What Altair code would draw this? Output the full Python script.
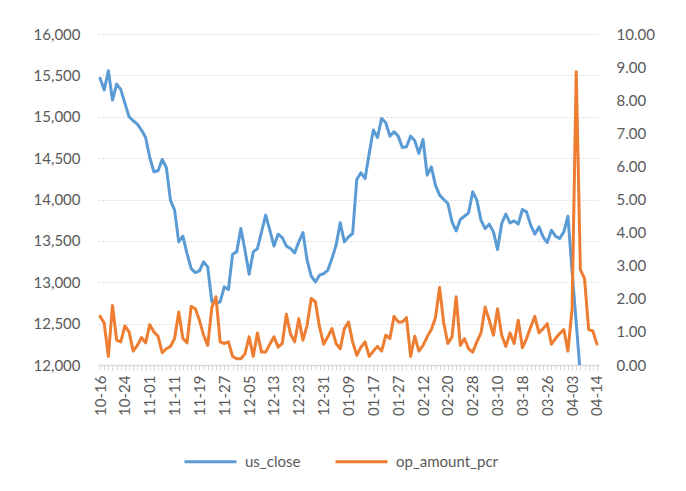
import altair as alt
import pandas as pd

dates = [
    "10-16", "10-17", "10-18", "10-21", "10-22", "10-23", "10-24", "10-25", "10-28", "10-29", "10-30", "10-31",
    "11-01", "11-04", "11-05", "11-06", "11-07", "11-08", "11-11", "11-12", "11-13", "11-14", "11-15", "11-18",
    "11-19", "11-20", "11-21", "11-22", "11-25", "11-26", "11-27", "11-28", "11-29", "12-02", "12-03", "12-04",
    "12-05", "12-06", "12-09", "12-10", "12-11", "12-12", "12-13", "12-16", "12-17", "12-18", "12-19", "12-20",
    "12-23", "12-24", "12-25", "12-26", "12-27", "12-30", "12-31", "01-02", "01-03", "01-06", "01-07", "01-08",
    "01-09", "01-10", "01-13", "01-14", "01-15", "01-16", "01-17", "01-20", "01-21", "01-22", "01-23", "01-24",
    "01-27", "02-05", "02-06", "02-07", "02-10", "02-11", "02-12", "02-13", "02-14", "02-17", "02-18", "02-19",
    "02-20", "02-21", "02-24", "02-25", "02-26", "02-27", "02-28", "03-03", "03-04", "03-05", "03-06", "03-07",
    "03-10", "03-11", "03-12", "03-13", "03-14", "03-17", "03-18", "03-19", "03-20", "03-21", "03-24", "03-25",
    "03-26", "03-27", "03-28", "03-31", "04-01", "04-02", "04-03", "04-07", "04-08", "04-09", "04-10", "04-11",
    "04-14",
]

us_close = [
    15464, 15323, 15556, 15202, 15395, 15331, 15161, 15000, 14952, 14911, 14839, 14750,
    14508, 14335, 14347, 14484, 14387, 13992, 13871, 13488, 13557, 13347, 13165, 13117,
    13137, 13246, 13186, 12762, 12750, 12762, 12944, 12911, 13339, 13367, 13649, 13387,
    13097, 13367, 13407, 13609, 13811, 13629, 13436, 13581, 13540, 13436, 13407, 13355,
    13488, 13601, 13266, 13073, 13004, 13085, 13105, 13145, 13286, 13448, 13718, 13488,
    13548, 13589, 14242, 14323, 14254, 14557, 14839, 14750, 14980, 14927, 14766, 14819,
    14766, 14629, 14637, 14766, 14710, 14557, 14726, 14294, 14395, 14173, 14053, 14000,
    13952, 13730, 13621, 13758, 13798, 13839, 14093, 13992, 13750, 13649, 13702, 13609,
    13395, 13710, 13823, 13718, 13742, 13702, 13879, 13851, 13690, 13581, 13669, 13548,
    13480, 13629, 13557, 13528, 13609, 13798, 13130, 12510, 11880,
    None, None, None, None,
]

op_amount_pcr = [
    1.47, 1.27, 0.26, 1.80, 0.75, 0.70, 1.18, 1.00, 0.42, 0.59, 0.83, 0.67,
    1.22, 1.00, 0.87, 0.37, 0.49, 0.56, 0.80, 1.60, 0.80, 0.67, 1.77, 1.70,
    1.35, 0.90, 0.59, 1.75, 2.06, 0.70, 0.65, 0.70, 0.26, 0.19, 0.19, 0.34,
    0.85, 0.26, 0.97, 0.39, 0.39, 0.63, 0.85, 0.54, 0.65, 1.53, 0.93, 0.70,
    1.40, 0.75, 1.20, 2.01, 1.91, 1.15, 0.63, 0.85, 1.10, 0.65, 0.49, 1.10,
    1.30, 0.70, 0.29, 0.54, 0.70, 0.26, 0.42, 0.56, 0.42, 0.90, 0.80, 1.47,
    1.30, 1.30, 1.43, 0.26, 0.87, 0.42, 0.59, 0.85, 1.07, 1.43, 2.34, 1.27,
    0.65, 0.85, 2.06, 0.59, 0.80, 0.49, 0.39, 0.70, 0.97, 1.75, 1.35, 0.90,
    1.70, 0.90, 0.56, 0.97, 0.65, 1.35, 0.52, 0.80, 1.15, 1.47, 0.97, 1.10,
    1.25, 0.63, 0.80, 0.95, 1.07, 0.42, 1.70, 8.86, 2.88, 2.61, 1.07, 1.03, 0.63,
]

series_names = ["us_close", "op_amount_pcr"]
series_colors = ["#5B9BD5", "#ED7D31"]
left_ticks = [12000, 12500, 13000, 13500, 14000, 14500, 15000, 15500, 16000]
right_ticks = [0, 1, 2, 3, 4, 5, 6, 7, 8, 9, 10]
label_every = 6

n = len(dates)
df = pd.DataFrame({
    "idx": list(range(n)),
    "date": dates,
    "us_close": us_close,
    "op_amount_pcr": op_amount_pcr,
})

FONT = "Lato"
TXT = "#595959"
GRID = "#d9d9d9"

label_array = "[" + ",".join("'" + d + "'" for d in dates) + "]"
label_expr = f"datum.value % {label_every} == 0 ? {label_array}[datum.value] : ''"

x_enc = alt.X(
    "idx:Q",
    scale=alt.Scale(domain=[-0.5, n - 0.5], nice=False, zero=False),
    axis=alt.Axis(
        values=list(range(n)), labelExpr=label_expr, labelAngle=270, title=None,
        grid=False, tickColor=GRID, tickSize=5, tickWidth=1,
        domainColor=GRID, domainWidth=1.5, labelPadding=5,
        labelOverlap=False, labelFlush=False, labelBound=False,
        labelFontSize=15, labelColor=TXT, labelFont=FONT,
    ),
)

color_scale = alt.Scale(domain=series_names, range=series_colors)
legend = alt.Legend(
    title=None, orient="none", legendX=85, legendY=400, direction="horizontal",
    symbolType="stroke", symbolSize=2704, symbolStrokeWidth=3,
    labelFontSize=15, labelColor=TXT, labelFont=FONT, labelOffset=7,
    columnPadding=28, padding=0,
)

base = alt.Chart(df)

blue = base.transform_calculate(series="'us_close'").mark_line(
    strokeWidth=3, clip=True, strokeJoin="round", strokeCap="round"
).encode(
    x=x_enc,
    y=alt.Y(
        "us_close:Q",
        scale=alt.Scale(domain=[12000, 16000], nice=False, zero=False),
        axis=alt.Axis(
            values=left_ticks, format=",d", title=None, orient="left",
            grid=True, gridDash=[2, 2], gridColor=GRID, gridWidth=1.2,
            domain=False, ticks=False, tickSize=0, labelPadding=18,
            labelFontSize=15, labelColor=TXT, labelFont=FONT,
        ),
    ),
    color=alt.Color("series:N", scale=color_scale, legend=legend),
)

orange = base.transform_calculate(series="'op_amount_pcr'").mark_line(
    strokeWidth=3, clip=True, strokeJoin="round", strokeCap="round"
).encode(
    x=x_enc,
    y=alt.Y(
        "op_amount_pcr:Q",
        scale=alt.Scale(domain=[0, 10], nice=False, zero=False),
        axis=alt.Axis(
            values=right_ticks, format=".2f", title=None, orient="right",
            grid=False, domain=False, ticks=False, tickSize=0, labelPadding=17,
            labelFontSize=15, labelColor=TXT, labelFont=FONT,
        ),
    ),
    color=alt.Color("series:N", scale=color_scale, legend=legend),
)

chart = alt.layer(blue, orange).resolve_scale(y="independent").properties(
    width=501, height=331,
    autosize=alt.AutoSizeParams(type="none"),
    padding={"left": 90, "top": 26, "right": 79, "bottom": 125},
).configure(font=FONT).configure_view(stroke=None)

chart.save("out.html", embed_options={"renderer": "svg", "actions": False})
